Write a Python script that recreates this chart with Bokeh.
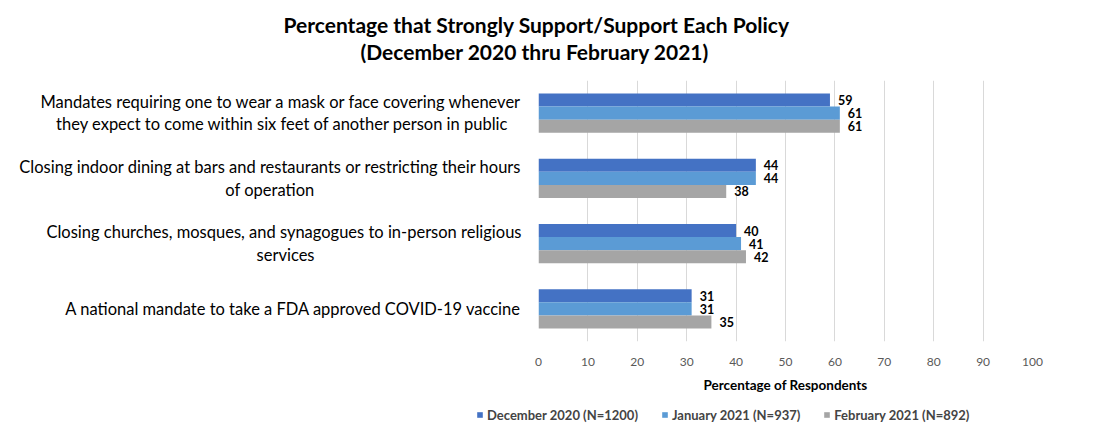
from bokeh.plotting import figure
from bokeh.layouts import column, row
from bokeh.models import ColumnDataSource, FactorRange, Legend, LegendItem, FixedTicker, Title, Spacer
from bokeh.transform import dodge
from bokeh.core.properties import value
from bokeh.embed import file_html
from bokeh.resources import INLINE

NB = "\u00a0"
title_lines = ["Percentage that Strongly Support/Support  Each Policy",
               "(December 2020 thru February 2021)"]
cat_lines = [
    ["Mandates requiring one to wear a mask or face covering whenever",
     "they expect to come within six feet of another person in public"],
    ["Closing indoor dining at bars and restaurants or restricting their hours",
     "of operation"],
    ["Closing churches, mosques, and synagogues to in-person religious",
     "services"],
    ["A national mandate to take a FDA approved COVID-19 vaccine"],
]
# non-breaking spaces appended to a short second line so it sits centred under the first
pad_counts = [3, 49, 49, 0]
series_names = ["December 2020 (N=1200)", "January 2021 (N=937)", "February 2021 (N=892)"]
dec = [59, 44, 40, 31]
jan = [61, 44, 41, 31]
feb = [61, 38, 42, 35]
colors = ["#4472C4", "#5B9BD5", "#A5A5A5"]
x_ticks = [0, 10, 20, 30, 40, 50, 60, 70, 80, 90, 100]
x_label = "Percentage of Respondents"

FONT = "Lato"

categories = []
for lines, pc in zip(cat_lines, pad_counts):
    if len(lines) > 1:
        categories.append(lines[0] + "\n" + lines[1] + NB * pc)
    else:
        categories.append(lines[0])

src = ColumnDataSource(dict(cat=categories, dec=dec, jan=jan, feb=feb,
                            dec_t=[str(v) for v in dec], jan_t=[str(v) for v in jan],
                            feb_t=[str(v) for v in feb]))

p = figure(width=1094, height=400, output_backend="svg", toolbar_location=None,
           y_range=FactorRange(*reversed(categories)), x_range=(0, 100),
           min_border_left=538, min_border_right=62, min_border_top=80, min_border_bottom=59)
p.outline_line_color = None
p.ygrid.grid_line_color = None
p.xgrid.grid_line_color = "#D9D9D9"
p.xgrid.ticker = FixedTicker(ticks=x_ticks)

ax = p.xaxis[0]
ax.ticker = FixedTicker(ticks=x_ticks)
ax.axis_line_color = None
ax.major_tick_line_color = None
ax.minor_tick_line_color = None
ax.major_tick_out = 0
ax.major_tick_in = 0
ax.minor_tick_out = 0
ax.major_label_text_font = FONT
ax.major_label_text_font_size = "12px"
ax.major_label_text_color = "#595959"
ax.major_label_standoff = 16
ax.axis_label = x_label
ax.axis_label_text_font = FONT
ax.axis_label_text_font_size = "13.5px"
ax.axis_label_text_font_style = "bold"
ax.axis_label_text_color = "#000000"
ax.axis_label_standoff = 8

ay = p.yaxis[0]
ay.axis_line_color = None
ay.major_tick_line_color = None
ay.minor_tick_line_color = None
ay.major_tick_out = 0
ay.major_tick_in = 0
ay.minor_tick_out = 0
ay.major_label_standoff = 17
ay.major_label_text_font = FONT
ay.major_label_text_font_size = "16.5px"
ay.major_label_text_color = "#000000"
ay.major_label_text_line_height = 1.12

offsets = [0.2, 0.0, -0.2]
fields = ["dec", "jan", "feb"]
for f, off, c in zip(fields, offsets, colors):
    p.hbar(y=dodge("cat", off, range=p.y_range), left=0, right=f, height=0.2,
           source=src, fill_color=c, line_color=None)
    p.text(x=f, y=dodge("cat", off, range=p.y_range), text=f + "_t", source=src,
           x_offset=8, text_align="left", text_baseline="middle",
           text_font=value(FONT), text_font_size="12.5px", text_font_style="bold",
           text_color="#000000")

# gap between plot area and the two title lines
p.add_layout(Title(text=" ", text_font_size="1px", standoff=13), "above")
# title lines (bottom line first; later ones stack above)
for line, off, so in [(title_lines[1], -178, 1), (title_lines[0], -255, 0)]:
    p.add_layout(Title(text=line, align="left", offset=off, text_font=FONT,
                       text_font_size="21px", text_font_style="bold",
                       text_color="#000000", standoff=so), "above")

# legend strip below the chart
lg = figure(width=618, height=29, output_backend="svg", toolbar_location=None,
            x_range=(0, 1), y_range=(0, 1), x_axis_type=None, y_axis_type=None,
            min_border_left=0, min_border_right=0, min_border_top=0, min_border_bottom=0)
lg.outline_line_color = None
lg.xgrid.visible = False
lg.ygrid.visible = False
items = []
for nm, c in zip(series_names, colors):
    # legend proxy glyph, kept outside the visible range
    r = lg.hbar(y=[-5], right=[0], left=[0], height=0.1, fill_color=c, line_color=None)
    items.append(LegendItem(label=nm, renderers=[r]))
legend = Legend(items=items, orientation="horizontal", location="center_left",
                border_line_color=None, background_fill_alpha=0, padding=0, margin=0,
                spacing=23, label_standoff=4, glyph_width=7, glyph_height=7,
                label_text_font=FONT, label_text_font_size="13px",
                label_text_font_style="bold", label_height=14)
lg.add_layout(legend, "center")

layout = column(p, row(Spacer(width=476, height=29), lg, spacing=0), spacing=0)
open("out.html", "w").write(file_html(layout, INLINE))
